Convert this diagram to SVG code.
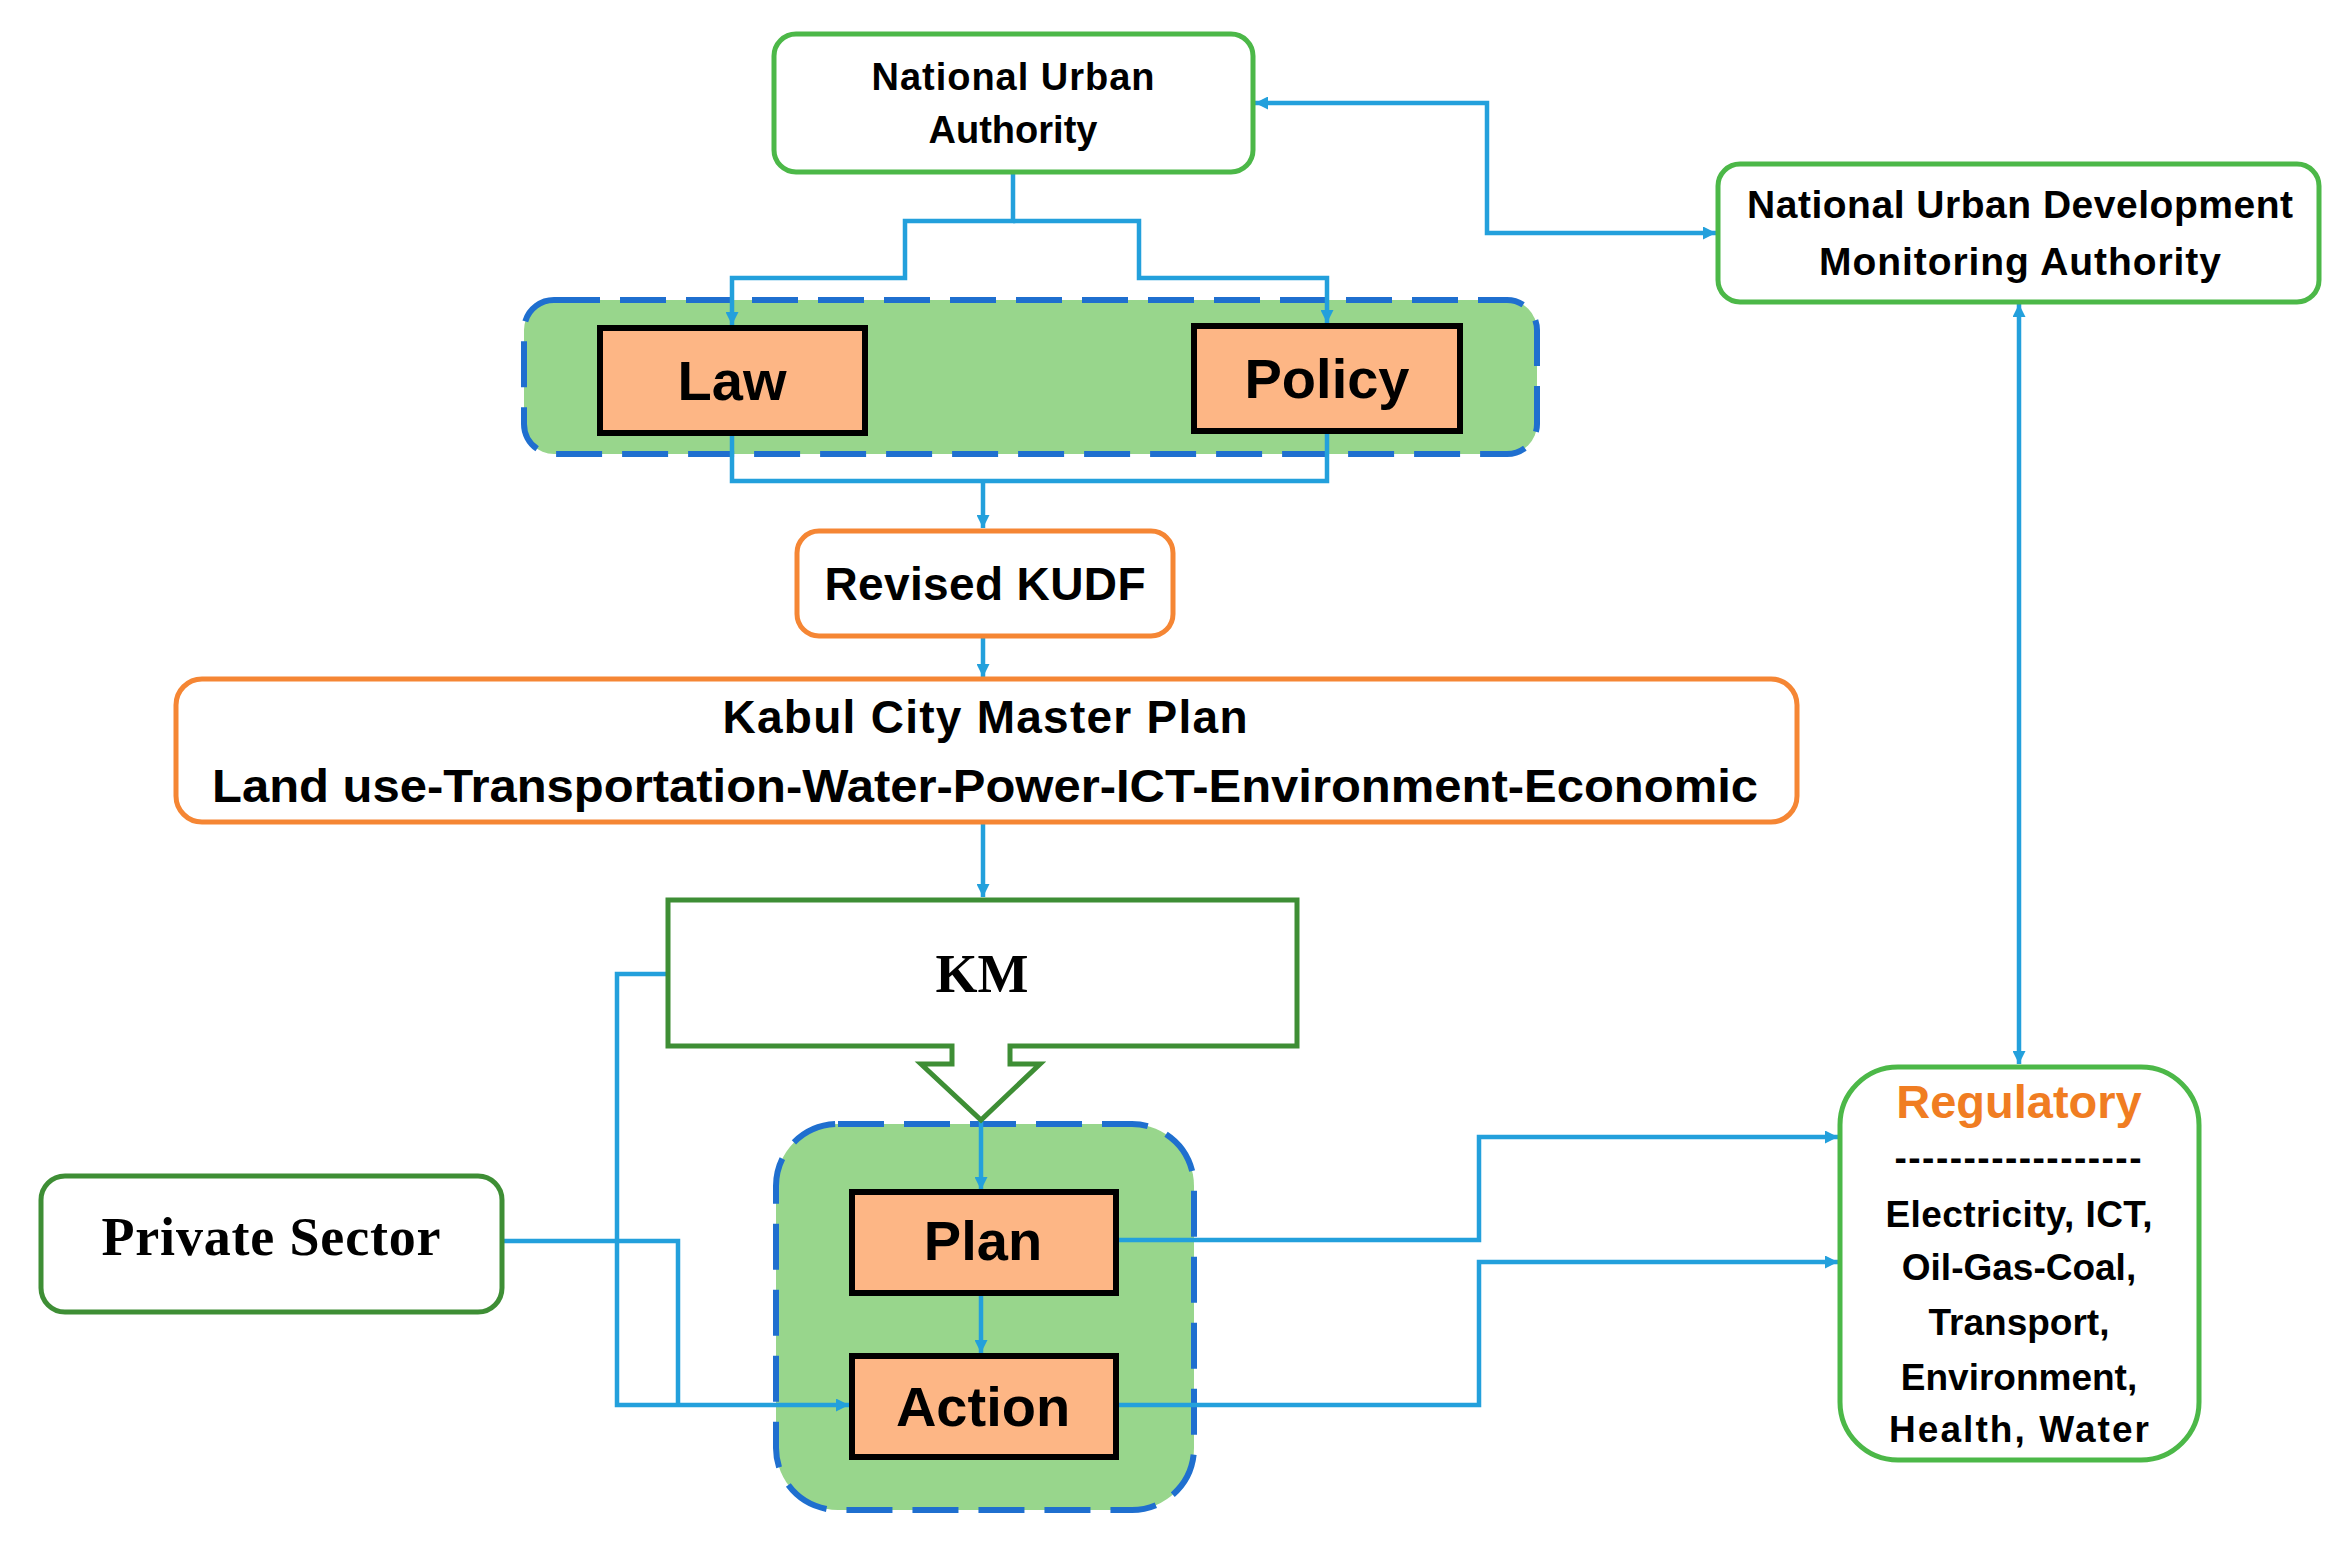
<svg xmlns="http://www.w3.org/2000/svg" width="2344" height="1541" viewBox="0 0 2344 1541">
<style>
.t{font-family:"Liberation Sans",Arial,sans-serif;font-weight:bold;fill:#000;text-anchor:middle}
.s{font-family:"Liberation Serif","Times New Roman",serif;font-weight:bold;fill:#000;text-anchor:middle}
.lg{fill:#fff;stroke:#4cb848;stroke-width:5}
.dg{fill:#fff;stroke:#3e8e35;stroke-width:5}
.or{fill:#fff;stroke:#f58634;stroke-width:5}
.pe{fill:#fdb685;stroke:#000;stroke-width:6}
.ct{fill:#98d68c;stroke:#1f6fcf;stroke-width:6;stroke-dasharray:46 20}
.cn{fill:none;stroke:#23a0dc;stroke-width:4.5}
.ar{marker-end:url(#ah)}
.ar2{marker-start:url(#ah);marker-end:url(#ah)}
</style>
<defs>
<marker id="ah" viewBox="0 0 10 10" refX="10" refY="5" markerUnits="userSpaceOnUse" markerWidth="15" markerHeight="13" orient="auto-start-reverse">
<path d="M0,0 L10,5 L0,10 z" fill="#23a0dc"/>
</marker>
</defs>
<rect width="2344" height="1541" fill="#fff"/>

<g id="container-top"><rect class="ct" x="524" y="300" width="1013" height="154" rx="30"/></g>
<g id="container-bottom"><rect class="ct" x="776" y="1124" width="418" height="386" rx="62"/></g>

<g id="connectors">
<path class="cn ar2" d="M1255,103 H1487 V233 H1716"/>
<path class="cn ar" d="M1013,172 V221 H905 V278 H732 V325"/>
<path class="cn ar" d="M1013,221 H1139 V278 H1327 V323"/>
<path class="cn" d="M732,435 V481 H1327 V434"/>
<path class="cn ar" d="M983,481 V528"/>
<path class="cn ar" d="M983,637 V677"/>
<path class="cn ar" d="M983,823 V897"/>
<path class="cn ar" d="M981,1120 V1190"/>
<path class="cn ar" d="M981,1293 V1353"/>
<path class="cn ar" d="M668,974 H617 V1405 H849"/>
<path class="cn" d="M502,1241 H678 V1405"/>
<path class="cn ar" d="M1116,1240 H1479 V1137 H1838"/>
<path class="cn ar" d="M1116,1405 H1479 V1262 H1838"/>
<path class="cn ar2" d="M2019,304 V1064"/>
</g>

<g id="nua">
<rect class="lg" x="774" y="34" width="479" height="138" rx="22"/>
<text class="t" x="1013" y="90" font-size="38" textLength="283">National Urban</text>
<text class="t" x="1013" y="143" font-size="38">Authority</text>
</g>

<g id="nudma">
<rect class="lg" x="1718" y="164" width="601" height="138" rx="22"/>
<text class="t" x="2020" y="218" font-size="39" textLength="546">National Urban Development</text>
<text class="t" x="2020" y="275" font-size="39" textLength="402">Monitoring Authority</text>
</g>

<g id="law">
<rect class="pe" x="600" y="328" width="265" height="105"/>
<text class="t" x="732" y="400" font-size="56">Law</text>
</g>

<g id="policy">
<rect class="pe" x="1194" y="326" width="266" height="105"/>
<text class="t" x="1327" y="398" font-size="56">Policy</text>
</g>

<g id="kudf">
<rect class="or" x="797" y="531" width="376" height="105" rx="22"/>
<text class="t" x="985" y="600" font-size="46" textLength="321">Revised KUDF</text>
</g>

<g id="kabul">
<rect class="or" x="176" y="679" width="1621" height="143" rx="26"/>
<text class="t" x="985" y="733" font-size="46" textLength="525">Kabul City Master Plan</text>
<text class="t" x="985" y="802" font-size="46" textLength="1546" lengthAdjust="spacingAndGlyphs">Land use-Transportation-Water-Power-ICT-Environment-Economic</text>
</g>

<g id="km">
<path class="dg" d="M668,900 H1297 V1046 H1010 V1064 H1040 L981,1120 L921,1064 H952 V1046 H668 Z"/>
<text class="s" x="982" y="992" font-size="54">KM</text>
</g>

<g id="private-sector">
<rect class="dg" x="41" y="1176" width="461" height="136" rx="24"/>
<text class="s" x="271" y="1255" font-size="54" textLength="339">Private Sector</text>
</g>

<g id="plan">
<rect class="pe" x="852" y="1192" width="264" height="101"/>
<text class="t" x="983" y="1260" font-size="56">Plan</text>
</g>

<g id="action">
<rect class="pe" x="852" y="1356" width="264" height="101"/>
<text class="t" x="983" y="1426" font-size="56">Action</text>
</g>

<g id="regulatory">
<rect class="lg" x="1840" y="1067" width="359" height="393" rx="58"/>
<text class="t" x="2019" y="1118" font-size="47" style="fill:#f07d22">Regulatory</text>
<text class="t" x="2018" y="1170" font-size="37" textLength="247">------------------</text>
<text class="t" x="2019" y="1227" font-size="37" textLength="267">Electricity, ICT,</text>
<text class="t" x="2019" y="1280" font-size="37">Oil-Gas-Coal,</text>
<text class="t" x="2019" y="1335" font-size="37">Transport,</text>
<text class="t" x="2019" y="1390" font-size="37">Environment,</text>
<text class="t" x="2019" y="1442" font-size="37" textLength="260">Health, Water</text>
</g>
</svg>
